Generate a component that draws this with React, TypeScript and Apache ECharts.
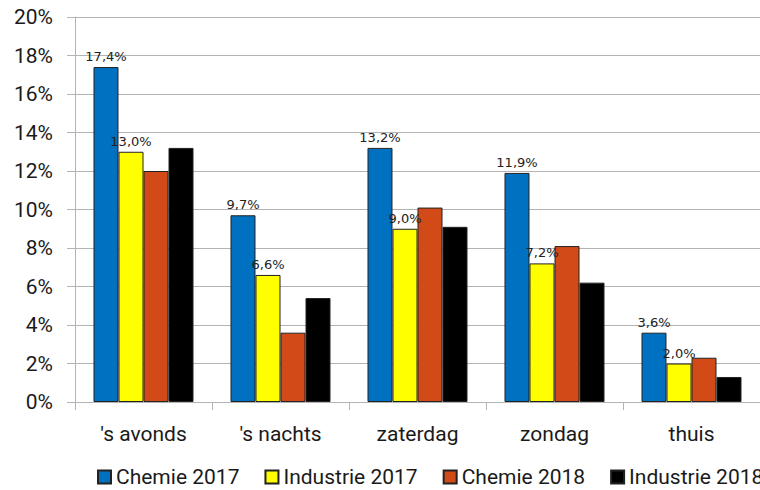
import React, { useEffect, useRef } from "react";
import * as echarts from "echarts";

const categories = ["'s avonds", "'s nachts", "zaterdag", "zondag", "thuis"];
const seriesNames = ["Chemie 2017", "Industrie 2017", "Chemie 2018", "Industrie 2018"];
const chemie2017 = [17.4, 9.7, 13.2, 11.9, 3.6];
const industrie2017 = [13.0, 6.6, 9.0, 7.2, 2.0];
const chemie2018 = [12.0, 3.6, 10.1, 8.1, 2.3];
const industrie2018 = [13.2, 5.4, 9.1, 6.2, 1.3];
const colors = ["#0070c0", "#ffff00", "#d24a18", "#000000"];
const showLabels = [true, true, false, false];

const fmt = (v: number) => v.toFixed(1).replace(".", ",") + "%";

export default function App() {
  const ref = useRef<HTMLDivElement>(null);
  useEffect(() => {
    if (!ref.current) return;
    const chart = echarts.init(ref.current, undefined, { renderer: "svg" });
    const data = [chemie2017, industrie2017, chemie2018, industrie2018];
    chart.setOption({
      animation: false,
      textStyle: { fontFamily: "Roboto" },
      grid: { left: 75, right: -10, top: 17, bottom: 88, containLabel: false },
      legend: {
        left: 97,
        top: 465,
        width: 1000,
        padding: 0,
        itemWidth: 13,
        itemHeight: 13,
        itemGap: 25,
        icon: "rect",
        textStyle: { fontSize: 21, color: "#1a1a1a", fontFamily: "Roboto", lineHeight: 24 },
        data: seriesNames,
      },
      xAxis: {
        type: "category",
        data: categories,
        axisLine: { show: true, lineStyle: { color: "#b3b3b3", width: 1 } },
        axisTick: { show: true, length: 8, lineStyle: { color: "#b3b3b3" } },
        axisLabel: { fontSize: 21, color: "#1a1a1a", margin: 21, fontFamily: "Roboto" },
      },
      yAxis: {
        type: "value",
        min: 0,
        max: 20,
        interval: 2,
        axisLine: { show: true, lineStyle: { color: "#b3b3b3", width: 1 } },
        axisTick: { show: true, length: 8, lineStyle: { color: "#b3b3b3" } },
        splitLine: { show: true, lineStyle: { color: "#b3b3b3", width: 1 } },
        axisLabel: {
          fontSize: 21,
          color: "#1a1a1a",
          margin: 22,
          fontFamily: "Roboto",
          formatter: (v: number) => v + "%",
        },
      },
      series: seriesNames.map((name, i) => ({
        name,
        type: "bar",
        data: data[i],
        barGap: "0%",
        barCategoryGap: "27%",
        itemStyle: { color: colors[i], borderColor: "#222", borderWidth: 1 },
        label: {
          show: showLabels[i],
          position: "top",
          distance: 4,
          fontSize: 13,
          fontFamily: "DejaVu Sans",
          color: "#222",
          formatter: (p: any) => fmt(p.value),
        },
      })),
    });
    return () => chart.dispose();
  }, []);
  return <div ref={ref} style={{ width: 760, height: 490, position: "absolute", left: 0, top: 0 }} />;
}
